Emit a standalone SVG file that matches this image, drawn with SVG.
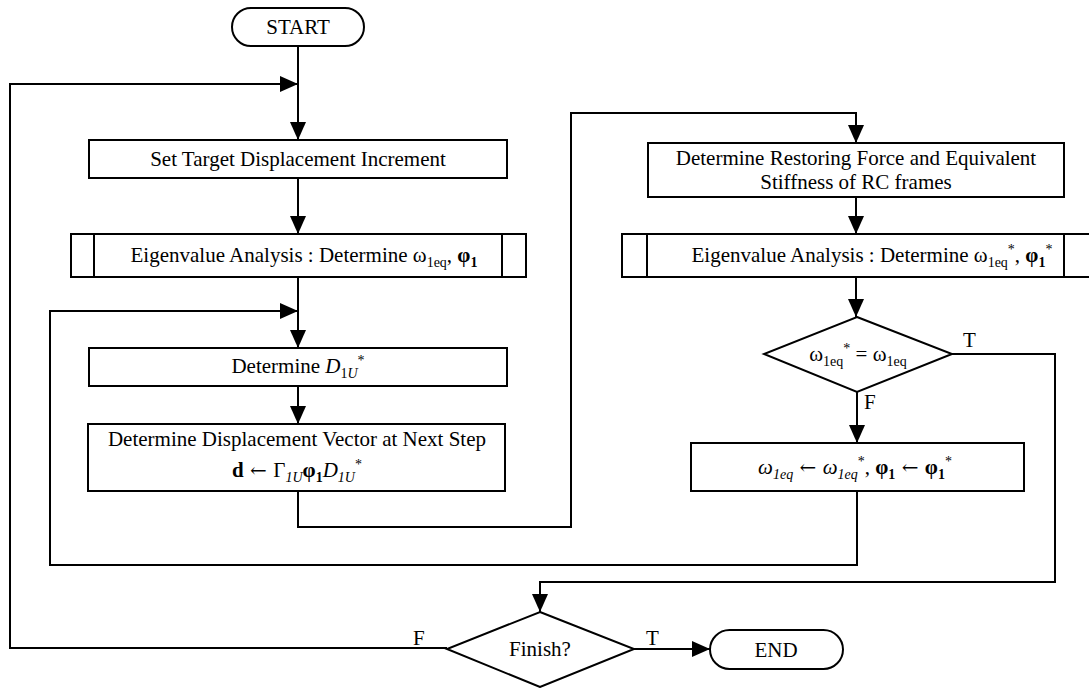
<svg xmlns="http://www.w3.org/2000/svg" width="1089" height="688" viewBox="0 0 1089 688">
<style>
.box{fill:#fff;stroke:#000;stroke-width:2}
.ln{fill:none;stroke:#000;stroke-width:2}
text{font-family:"Liberation Serif","Times New Roman",serif;font-size:21px;fill:#000}
.s{font-size:14px}
.b{font-weight:bold}
.i{font-style:italic}
.a{font-family:"DejaVu Serif",serif;font-size:20px}
</style>
<defs>
<marker id="ar" markerUnits="userSpaceOnUse" markerWidth="18" markerHeight="16" refX="18" refY="8" orient="auto">
<path d="M0,0 L18,8 L0,16 Z" fill="#000"/>
</marker>
</defs>
<rect width="1089" height="688" fill="#fff"/>

<g id="connectors" class="ln" marker-end="url(#ar)">
<path d="M298,46 V140"/>
<path d="M447,648 H10 V84 H298"/>
<path d="M298,178 V234"/>
<path d="M298,277 V348"/>
<path d="M857,491 V565 H50 V311 H298"/>
<path d="M298,386 V424"/>
<path d="M298,491 V527 H571 V113 H856 V143"/>
<path d="M856,197 V234"/>
<path d="M856,277 V317"/>
<path d="M857,392 V443"/>
<path d="M952,354 H1055 V582 H540 V612"/>
<path d="M634,649 H710"/>
</g>

<g id="start">
<rect class="box" x="232" y="8" width="132" height="38" rx="19"/>
<text x="298" y="34" text-anchor="middle">START</text>
</g>

<g id="set-target">
<rect class="box" x="89" y="140" width="418" height="38"/>
<text x="298" y="166" text-anchor="middle">Set Target Displacement Increment</text>
</g>

<g id="eigen1">
<rect class="box" x="71" y="234" width="455" height="43"/>
<line class="ln" x1="94" y1="234" x2="94" y2="277"/>
<line class="ln" x1="502" y1="234" x2="502" y2="277"/>
<text x="304" y="262" text-anchor="middle">Eigenvalue Analysis : Determine ω<tspan class="s" dy="5">1eq</tspan><tspan dy="-5">, </tspan><tspan class="b">φ</tspan><tspan class="s b" dy="5">1</tspan></text>
</g>

<g id="determine-d">
<rect class="box" x="89" y="348" width="418" height="38"/>
<text x="298" y="373" text-anchor="middle">Determine <tspan class="i">D</tspan><tspan class="s" dy="5">1</tspan><tspan class="s i">U</tspan><tspan class="s" dy="-13">*</tspan></text>
</g>

<g id="displacement">
<rect class="box" x="88" y="424" width="417" height="67"/>
<text x="297" y="446" text-anchor="middle">Determine Displacement Vector at Next Step</text>
<text x="297" y="477" text-anchor="middle"><tspan class="b">d</tspan><tspan class="a" xml:space="preserve"> ← </tspan>Γ<tspan class="s i" dy="5">1U</tspan><tspan class="b" dy="-5">φ</tspan><tspan class="s b" dy="5">1</tspan><tspan class="i" dy="-5">D</tspan><tspan class="s i" dy="5">1U</tspan><tspan class="s" dy="-13">*</tspan></text>
</g>

<g id="restoring">
<rect class="box" x="648" y="143" width="416" height="54"/>
<text x="856" y="165" text-anchor="middle">Determine Restoring Force and Equivalent</text>
<text x="856" y="189" text-anchor="middle">Stiffness of RC frames</text>
</g>

<g id="eigen2">
<rect class="box" x="622" y="234" width="468" height="43"/>
<line class="ln" x1="647" y1="234" x2="647" y2="277"/>
<line class="ln" x1="1064" y1="234" x2="1064" y2="277"/>
<text x="872" y="262" text-anchor="middle">Eigenvalue Analysis : Determine ω<tspan class="s" dy="5">1eq</tspan><tspan class="s" dy="-13">*</tspan><tspan dy="8">, </tspan><tspan class="b">φ</tspan><tspan class="s b" dy="5">1</tspan><tspan class="s" dy="-13">*</tspan></text>
</g>

<g id="check-omega">
<polygon class="box" points="857,317 952,354 857,392 764,354"/>
<text x="858" y="361" text-anchor="middle">ω<tspan class="s" dy="5">1eq</tspan><tspan class="s" dy="-13">*</tspan><tspan dy="8"> = ω</tspan><tspan class="s" dy="5">1eq</tspan></text>
<text x="963" y="347">T</text>
<text x="864" y="409">F</text>
</g>

<g id="update">
<rect class="box" x="691" y="443" width="333" height="48"/>
<text x="855" y="474" text-anchor="middle"><tspan class="i">ω</tspan><tspan class="s i" dy="5">1eq</tspan><tspan class="a" dy="-5"> ← </tspan><tspan class="i">ω</tspan><tspan class="s i" dy="5">1eq</tspan><tspan class="s" dy="-13">*</tspan><tspan dy="8">, </tspan><tspan class="b">φ</tspan><tspan class="s b" dy="5">1</tspan><tspan class="a" dy="-5"> ← </tspan><tspan class="b">φ</tspan><tspan class="s b" dy="5">1</tspan><tspan class="s" dy="-13">*</tspan></text>
</g>

<g id="finish">
<polygon class="box" points="540,612 634,649 540,687 447,649"/>
<text x="540" y="656" text-anchor="middle">Finish?</text>
<text x="413" y="645">F</text>
<text x="646" y="645">T</text>
</g>

<g id="end">
<rect class="box" x="710" y="630" width="133" height="39" rx="19.5"/>
<text x="776" y="657" text-anchor="middle">END</text>
</g>
</svg>
